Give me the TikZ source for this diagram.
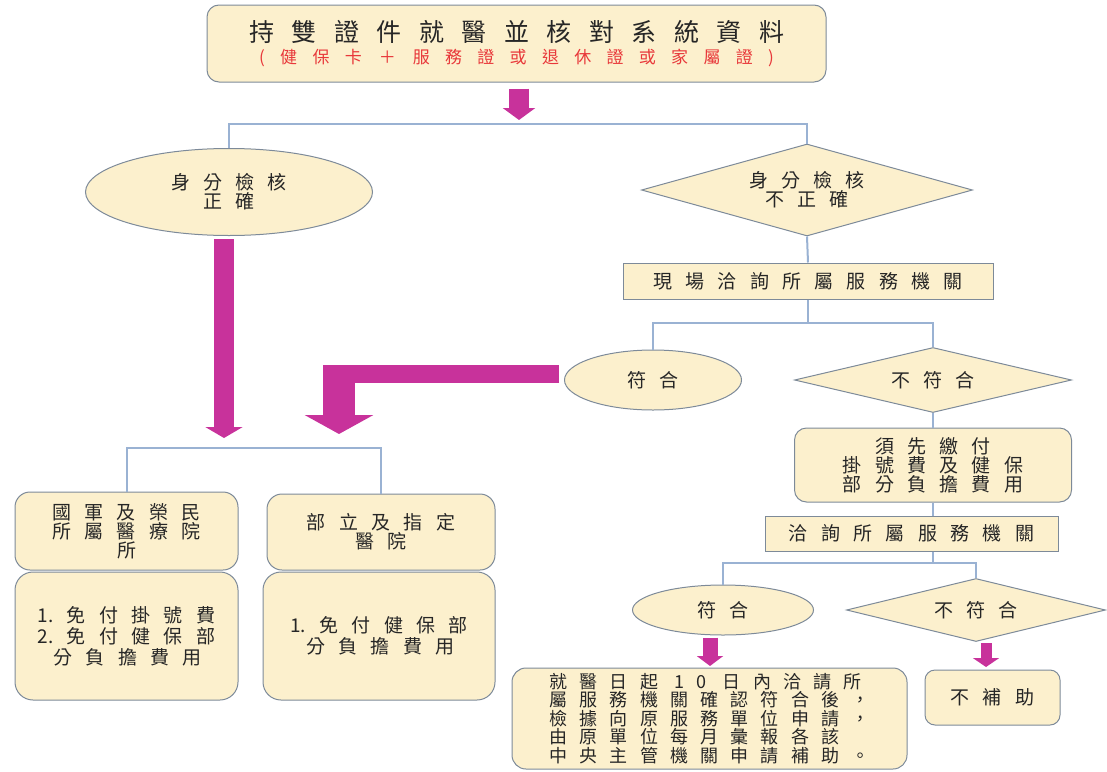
\documentclass[tikz,border=0pt]{standalone}
\usepackage{fontspec}
\newfontfamily\cjk[LetterSpace=70]{Noto Sans CJK TC}
\usetikzlibrary{shapes.geometric,arrows.meta,calc}
\definecolor{cream}{HTML}{FCF0CD}
\definecolor{edgec}{HTML}{7D8A99}
\definecolor{connc}{HTML}{9AB2D3}
\definecolor{magc}{HTML}{C8329B}
\definecolor{redtxt}{HTML}{E8383A}
\definecolor{ink}{HTML}{262626}
\newcommand\nls[1]{{\addfontfeatures{LetterSpace=0}#1}}
\tikzset{
  base/.style={fill=cream, draw=edgec, line width=1pt, text=ink, align=center, inner sep=0pt,
    font=\cjk\fontsize{19}{19}\selectfont},
  rbox/.style={base, rounded corners=#1},
  rbox/.default=13pt,
  sbox/.style={base, rectangle},
  ell/.style={base, ellipse},
  dia/.style={base, diamond, shape aspect=#1},
  conn/.style={draw=connc, line width=2pt},
  magarr/.style={draw=magc, line width=#1},
}
\begin{document}
\begin{tikzpicture}[x=1pt,y=-1pt]
\useasboundingbox (0,0) rectangle (1107,771);
% nodes
\node[rbox=12pt, minimum width=619pt, minimum height=77pt] (top) at (516.5,43.5)
  {{\fontsize{25}{25}\selectfont 持雙證件就醫並核對系統資料}\\[3pt]
   {\fontsize{17}{17}\selectfont\addfontfeatures{LetterSpace=90}\color{redtxt}(健保卡\quad ＋\quad 服務證或退休證或家屬證)}};
\node[ell, minimum width=287pt, minimum height=87pt] (ell1) at (229,192) {身分檢核\\正確};
\node[dia=3.6, minimum width=331pt, minimum height=92pt] (dia1) at (807,190) {身分檢核\\不正確};
\node[sbox, minimum width=370pt, minimum height=36pt] (rect1) at (808,281) {現場洽詢所屬服務機關};
\node[ell, minimum width=177pt, minimum height=60pt] (ell2) at (653,380) {符合};
\node[dia=4.3, minimum width=277pt, minimum height=65pt] (dia2) at (933,380) {不符合};
\node[rbox=12pt, minimum width=277pt, minimum height=74pt] (box3) at (933,465)
  {須先繳付\\掛號費及健保\\部分負擔費用};
\node[sbox, minimum width=293pt, minimum height=35pt] (rect2) at (911.5,533.5) {洽詢所屬服務機關};
\node[ell, minimum width=181pt, minimum height=50pt] (ell3) at (723,610) {符合};
\node[dia=4.1, minimum width=259pt, minimum height=63pt] (dia3) at (976,610) {不符合};
\node[rbox=14pt, minimum width=395pt, minimum height=101pt, align=left,
  font=\cjk\fontsize{18}{18.5}\selectfont\addfontfeatures{LetterSpace=68}] (box4) at (709.5,718.5)
  {就醫日起 10 日內洽請所\\屬服務機關確認符合後，\\檢據向原服務單位申請，\\由原單位每月彙報各該\\中央主管機關申請補助。};
\node[rbox=10pt, minimum width=135pt, minimum height=55pt] (box5) at (992.5,697.5) {不補助};
\node[rbox=15pt, minimum width=223pt, minimum height=78pt] (b1) at (126.5,531)
  {國軍及榮民\\所屬醫療院\\所};
\node[rbox=15pt, minimum width=228pt, minimum height=76pt] (b2) at (381,532)
  {部立及指定\\醫院};
\node[rbox=18pt, minimum width=223pt, minimum height=128pt, align=left,
  font=\cjk\fontsize{19}{21}\selectfont] (b1b) at (126.5,636)
  {\nls{1}.免付掛號費\\\nls{2}.免付健保部\\\phantom{\nls{2}.}分負擔費用};
\node[rbox=18pt, minimum width=232pt, minimum height=128pt, align=left,
  font=\cjk\fontsize{19}{21}\selectfont] (b2b) at (379,636)
  {\nls{1}.免付健保部\\\phantom{\nls{1}.}分負擔費用};
% junction coordinates
\coordinate (j1) at (519,124);
\coordinate (j2) at (808,323);
\coordinate (j3) at (255,448);
\coordinate (j4) at (933,563);
% thin connectors
\draw[conn] (ell1.north) -- (ell1.north |- j1) -- (dia1.north |- j1) -- (dia1.north);
\draw[conn] (dia1.south) -- (rect1.north);
\draw[conn] (rect1.south) -- (j2);
\draw[conn] (ell2.north) -- (ell2.north |- j2) -- (dia2.north |- j2) -- (dia2.north);
\draw[conn] (dia2.south) -- (box3.north);
\draw[conn] (box3.south) -- (box3.south |- rect2.north);
\draw[conn] (rect2.south -| j4) -- (j4);
\draw[conn] (ell3.north) -- (ell3.north |- j4) -- (dia3.north |- j4) -- (dia3.north);
\draw[conn] (b1.north) -- (b1.north |- j3) -- (b2.north |- j3) -- (b2.north);
% magenta block arrows
\coordinate (a0) at (519,120);
\draw[magarr=20pt, -{Triangle[width=32pt,length=12pt]}] ([yshift=-6pt]top.south -| a0) -- (a0);
\coordinate (a1) at (224,438);
\draw[magarr=20pt, -{Triangle[width=37pt,length=11pt]}] ([yshift=-3pt]ell1.south -| a1) -- (a1);
\coordinate (a2) at (339,434);
\coordinate (a2c) at (339,374);
\coordinate (a2l) at (323,374);
\draw[magarr=18pt] ([xshift=-5pt]ell2.west |- a2c) -- (a2l);
\draw[magarr=32pt, -{Triangle[width=68pt,length=19pt]}] ($(a2c)+(0,-9)$) -- (a2);
\coordinate (a3) at (710,666);
\draw[magarr=15pt, -{Triangle[width=26pt,length=10pt]}] ([yshift=-2pt]ell3.south -| a3) -- (a3);
\coordinate (a4) at (986,667);
\draw[magarr=11pt, -{Triangle[width=26pt,length=9pt]}] ([yshift=-1pt]dia3.south -| a4) -- (a4);
\end{tikzpicture}
\end{document}
